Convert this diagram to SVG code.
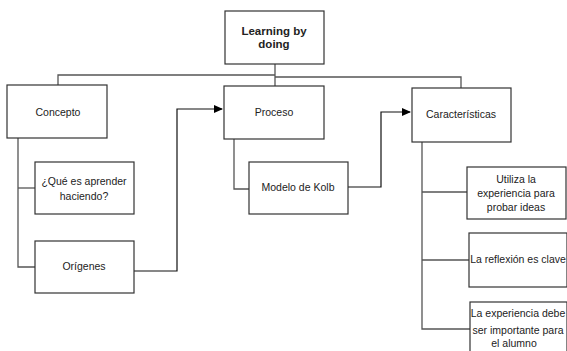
<svg xmlns="http://www.w3.org/2000/svg" width="567" height="351" viewBox="0 0 567 351">
<style>
.box{fill:#fff;stroke:#333;stroke-width:1.2}
.t{font-family:"Liberation Sans",Arial,sans-serif;font-size:10.5px;fill:#222;text-anchor:middle}
.tb{font-family:"Liberation Sans",Arial,sans-serif;font-size:11.5px;font-weight:bold;fill:#222;text-anchor:middle}
.c{fill:none;stroke:#555;stroke-width:1.3}
.a{fill:none;stroke:#111;stroke-width:1.2}
</style>
<defs>
<marker id="ah" markerUnits="userSpaceOnUse" markerWidth="9" markerHeight="8" refX="8" refY="4" orient="auto">
<path d="M0,0 L9,4 L0,8 Z" fill="#000"/>
</marker>
</defs>
<g id="connectors">
<path class="c" d="M275,64 V86"/>
<path class="c" d="M275,75 H58 V85"/>
<path class="c" d="M275,77 H461 V88"/>
<path class="c" d="M18,138 V267 H35"/>
<path class="c" d="M18,188 H35"/>
<path class="c" d="M234,139 V189 H249"/>
<path class="c" d="M422,142 V329 H470"/>
<path class="c" d="M422,192 H467"/>
<path class="c" d="M422,260 H469"/>
<path class="a" d="M134,271 H177 V109 H222" marker-end="url(#ah)"/>
<path class="a" d="M348,187 H381 V112 H410" marker-end="url(#ah)"/>
</g>
<g id="root">
<rect class="box" x="225" y="11" width="99" height="53"/>
<text class="tb" x="274" y="35">Learning by</text>
<text class="tb" x="274" y="48">doing</text>
</g>
<g id="concepto">
<rect class="box" x="7" y="85" width="100" height="53"/>
<text class="t" x="58" y="116">Concepto</text>
</g>
<g id="proceso">
<rect class="box" x="224" y="86" width="100" height="53"/>
<text class="t" x="274" y="116">Proceso</text>
</g>
<g id="caracteristicas">
<rect class="box" x="412" y="88" width="99" height="54"/>
<text class="t" x="461" y="118">Características</text>
</g>
<g id="que-es">
<rect class="box" x="35" y="162" width="99" height="52"/>
<text class="t" x="84" y="185">¿Qué es aprender</text>
<text class="t" x="84" y="200">haciendo?</text>
</g>
<g id="origenes">
<rect class="box" x="35" y="241" width="99" height="52"/>
<text class="t" x="84" y="270">Orígenes</text>
</g>
<g id="kolb">
<rect class="box" x="249" y="162" width="99" height="52"/>
<text class="t" x="298" y="191">Modelo de Kolb</text>
</g>
<g id="utiliza">
<rect class="box" x="467" y="167" width="99" height="52"/>
<text class="t" x="516" y="183">Utiliza la</text>
<text class="t" x="516" y="197">experiencia para</text>
<text class="t" x="516" y="211">probar ideas</text>
</g>
<g id="reflexion">
<rect class="box" x="469" y="233" width="98" height="54"/>
<text class="t" x="518" y="263">La reflexión es clave</text>
</g>
<g id="importante">
<rect class="box" x="470" y="302" width="97" height="52"/>
<text class="t" x="518" y="317">La experiencia debe</text>
<text class="t" x="518" y="334">ser importante para</text>
<text class="t" x="514" y="347">el alumno</text>
</g>
</svg>
